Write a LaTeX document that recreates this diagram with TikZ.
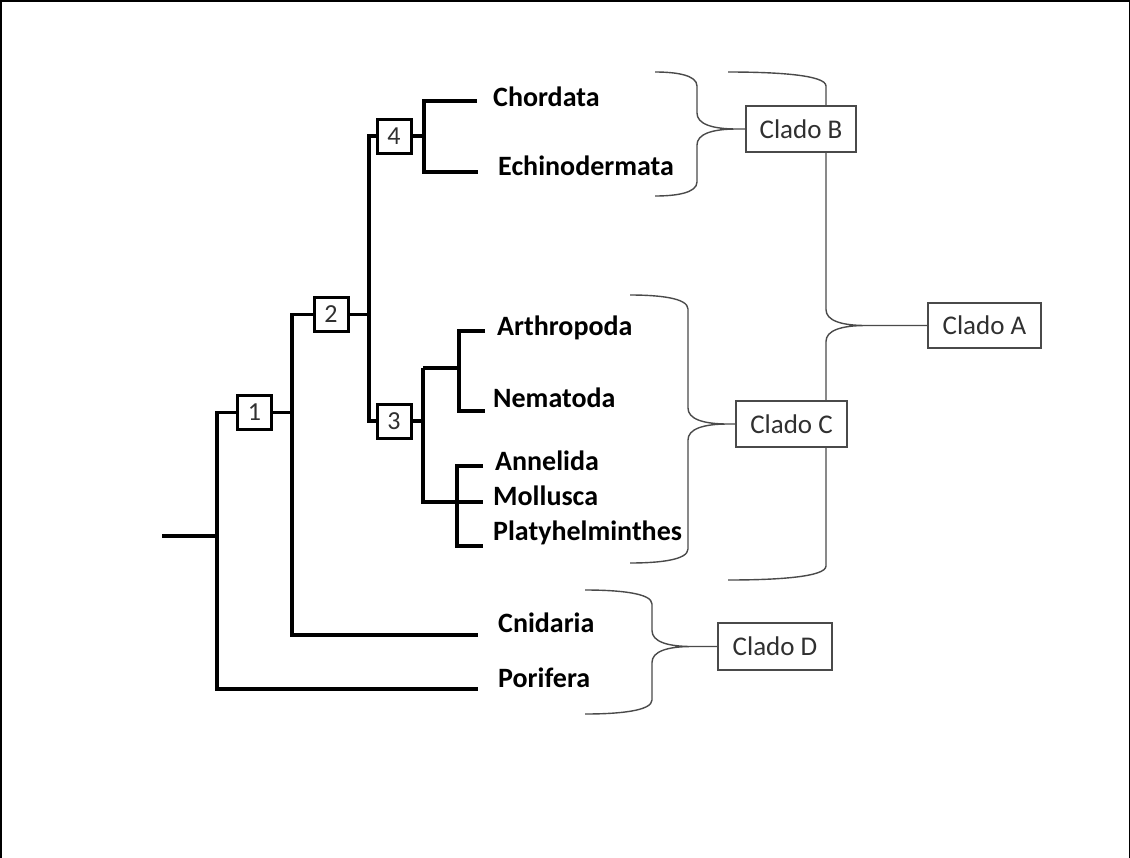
\documentclass[tikz,border=0pt]{standalone}
\usepackage{fontspec}
\setmainfont{Carlito}
\usetikzlibrary{backgrounds}
\definecolor{bracegray}{HTML}{4A4A4A}
\definecolor{labelgray}{HTML}{303030}
\newcommand\cladebrace[6]{% x0 xv ytop ymid ybot node
  \draw[bracel] (#1,#3) .. controls ({(#1+#2)/2},#3) and (#2,{#3+3}) .. (#2,{#3+14})
    -- (#2,{#4-16}) .. controls (#2,{#4-5}) and ({#2+15},#4) .. ({#2+40},#4) -- (#6.west)
    ({#2+40},#4) .. controls ({#2+15},#4) and (#2,{#4+5}) .. (#2,{#4+16})
    -- (#2,{#5-14}) .. controls (#2,{#5-3}) and ({(#1+#2)/2},#5) .. (#1,#5);
}
\begin{document}
\begin{tikzpicture}[x=1pt,y=-1pt,
  tree/.style={line width=3.2pt, line join=miter, line cap=butt, black},
  numbox/.style={draw=black, line width=3pt, fill=white, minimum size=34pt, inner sep=0pt,
    font=\fontsize{26}{30}\selectfont, text=labelgray},
  taxon/.style={anchor=base west, inner sep=0pt, font=\fontsize{28}{31}\selectfont\bfseries},
  clado/.style={draw=bracegray, line width=1.5pt, fill=white, inner sep=0pt,
    font=\fontsize{27}{30}\selectfont, text=labelgray},
  bracel/.style={draw=bracegray, line width=1.4pt}]
\useasboundingbox (0,0) rectangle (1130,857);
\draw[line width=1.5pt] (0.75,900) -- (0.75,0.75) -- (1129.25,0.75) -- (1129.25,900);

% clade boxes
\node[clado, minimum width=110pt, minimum height=46pt] (cB) at (801,129) {Clado B};
\node[clado, minimum width=113pt, minimum height=45pt] (cA) at (984.5,325.5) {Clado A};
\node[clado, minimum width=111pt, minimum height=46pt] (cC) at (791.5,424) {Clado C};
\node[clado, minimum width=114pt, minimum height=47pt] (cD) at (775,646.5) {Clado D};

% braces (behind the clade boxes)
\begin{scope}[on background layer]
\cladebrace{728}{826}{72}{325.5}{580}{cA}
\cladebrace{655}{697}{72}{129}{196}{cB}
\cladebrace{630}{688}{295}{424}{563}{cC}
\cladebrace{585}{652}{590}{646.5}{714}{cD}
\end{scope}

% numbered nodes
\node[numbox] (n1) at (254.5,412.5) {1};
\node[numbox] (n2) at (331,314.5) {2};
\node[numbox] (n3) at (394,421) {3};
\node[numbox] (n4) at (394,136) {4};

% junction and end coordinates
\coordinate (root) at (162,536);
\coordinate (r0) at (217,536);
\coordinate (eChor) at (477,101);
\coordinate (eEch) at (478,172);
\coordinate (eArt) at (485,331);
\coordinate (eNem) at (485,411);
\coordinate (eAnn) at (483,466);
\coordinate (eMol) at (483,502);
\coordinate (ePla) at (483,546);
\coordinate (eCni) at (478,635);
\coordinate (ePor) at (478,689);

% tree
\draw[tree] (root) -- (r0);
\draw[tree] (n1.west) -- (217,412.5) -- (217,689) -- (ePor);
\draw[tree] (n1.east) -- (292,412.5);
\draw[tree] (n2.west) -- (292,314.5) -- (292,635) -- (eCni);
\draw[tree] (n2.east) -- (369,314.5);
\draw[tree] (n4.west) -- (369,136) -- (369,421) -- (n3.west);
\draw[tree] (n4.east) -- (424,136);
\draw[tree] (eChor) -- (424,101) -- (424,172) -- (eEch);
\draw[tree] (n3.east) -- (423,421);
\draw[tree] (423,368) -- (423,502) -- (eMol);
\draw[tree] (423,368) -- (459,368);
\draw[tree] (eArt) -- (459,331) -- (459,411) -- (eNem);
\draw[tree] (eAnn) -- (457,466) -- (457,546) -- (ePla);

% taxa
\node[taxon] (tChor) at (493,106) {Chordata};
\node[taxon] (tEch) at (498,175) {Echinodermata};
\node[taxon] (tArt) at (497,335) {Arthropoda};
\node[taxon] (tNem) at (493,407) {Nematoda};
\node[taxon] (tAnn) at (495,470) {Annelida};
\node[taxon] (tMol) at (493,505) {Mollusca};
\node[taxon] (tPla) at (493,540) {Platyhelminthes};
\node[taxon] (tCni) at (498,632) {Cnidaria};
\node[taxon] (tPor) at (498,687) {Porifera};
\end{tikzpicture}
\end{document}
